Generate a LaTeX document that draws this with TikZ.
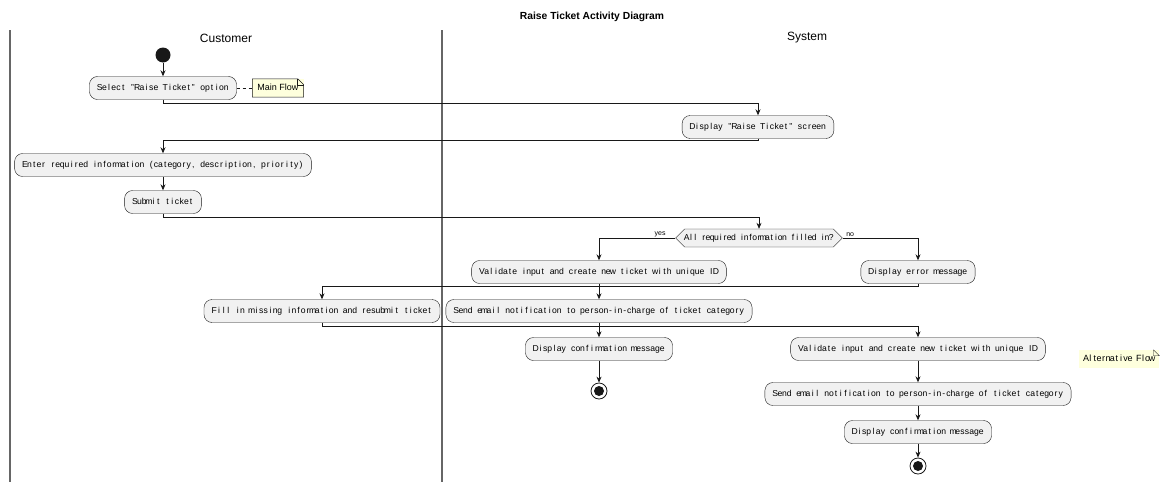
\documentclass[tikz,border=0pt]{standalone}
\usepackage{fontspec}
\setmainfont{Liberation Sans}
\usetikzlibrary{shapes.symbols,arrows.meta}
\definecolor{actfill}{HTML}{F1F1F1}
\definecolor{actline}{HTML}{181818}
\definecolor{notefill}{HTML}{FEFFDD}
\ExplSyntaxOn
\NewDocumentCommand\mtext{O{4.68pt}m}{\str_map_inline:nn{#2}{\makebox[#1]{##1}}}
\ExplSyntaxOff
\begin{document}
\begin{tikzpicture}[x=1pt, y=-1pt,
  act/.style={draw=actline, fill=actfill, rounded corners=8pt, inner xsep=8pt, text height=7pt, text depth=2pt,
    minimum height=23pt, font=\fontsize{8.6}{10}\selectfont},
  cond/.style={act, rounded corners=0pt, signal, signal to=east and west, minimum height=18pt, inner xsep=0pt, inner ysep=1pt},
  flow/.style={draw=actline, line width=0.7pt, -{Stealth[length=6pt,width=5pt]}},
  lane/.style={draw=black!60, line width=1.3pt},
  startnode/.style={circle, fill=actline, minimum size=15pt, inner sep=0pt},
  stopnode/.style={circle, draw=actline, fill=white, line width=0.8pt, minimum size=16pt, inner sep=0pt,
    path picture={\fill[actline] (path picture bounding box.center) circle (5pt);}},
  note/.style={fill=notefill, inner xsep=5pt, text height=7pt, text depth=2pt, minimum height=18pt,
    font=\fontsize{9}{10}\selectfont},
  lbl/.style={font=\fontsize{7}{8}\selectfont, inner sep=1pt}]
  \useasboundingbox (0,0) rectangle (1166,482);
  \node[font=\bfseries\fontsize{10.3}{12}\selectfont] (title) at (592,17) {Raise Ticket Activity Diagram};
  \draw[lane] (10,30) -- (10,482); \draw[lane] (442,30) -- (442,482);
  \node[font=\fontsize{12}{14}\selectfont] (customer) at (226,38) {Customer};
  \node[font=\fontsize{12}{14}\selectfont] (system) at (807,38) {System};

  \node[startnode] (start) at (163,55) {};
  \node[act] (select) at (163,88) {\mtext{Select "Raise Ticket" option}};
  \node[note] (mainnote) at (278,88) {Main Flow};
  \draw[actline, line width=0.5pt] (mainnote.south west) -- (mainnote.south east) -- ([yshift=-6pt]mainnote.north east)
    -- ([xshift=-6pt]mainnote.north east) -- (mainnote.north west) -- cycle;
  \draw[actline, line width=0.5pt] ([xshift=-6pt]mainnote.north east) -- ([xshift=-6pt,yshift=-6pt]mainnote.north east)
    -- ([yshift=-6pt]mainnote.north east);
  \draw[actline, dashed, line width=0.5pt] (select.east) -- (mainnote.west);
  \node[act] (display) at (758,127) {\mtext{Display "Raise Ticket" screen}};
  \node[act] (enter) at (163,165) {\mtext{Enter required information (category, description, priority)}};
  \node[act] (submit) at (163,202) {\mtext{Submit ticket}};
  \node[cond] (check) at (759,238) {\mtext[4.25pt]{All required information filled in?}};
  \node[act] (validate) at (599,272) {\mtext{Validate input and create new ticket with unique ID}};
  \node[act] (error) at (918,272) {\mtext{Display error message}};
  \node[act] (fill) at (322,311) {\mtext{Fill in missing information and resubmit ticket}};
  \node[act] (email) at (599,311) {\mtext{Send email notification to person-in-charge of ticket category}};
  \node[act] (confirm) at (599,349) {\mtext{Display confirmation message}};
  \node[stopnode] (stop) at (599,391) {};
  \node[act] (revalidate) at (918,349) {\mtext{Validate input and create new ticket with unique ID}};
  \node[act] (reemail) at (918,394) {\mtext{Send email notification to person-in-charge of ticket category}};
  \node[act] (reconfirm) at (918,432) {\mtext{Display confirmation message}};
  \node[stopnode] (restop) at (918,466) {};
  \node[note] (altnote) at (1119,359) {\mtext[4.4pt]{Alternative Flow}};
  \draw[actline, line width=0.3pt] ([xshift=-6pt]altnote.north east) -- ([xshift=-6pt,yshift=-6pt]altnote.north east)
    -- ([yshift=-6pt]altnote.north east) -- ([xshift=-6pt]altnote.north east);

  \draw[flow] (start) -- (select);
  \draw[flow] (select.south) -- ++(0,4) -| (display.north);
  \draw[flow] (display.south) -- ++(0,2) -| (enter.north);
  \draw[flow] (enter) -- (submit);
  \draw[flow] (submit.south) -- ++(0,4) -| (check.north);
  \draw[flow] (check.west) -| (validate.north) node[lbl, pos=0.1, above] {yes};
  \draw[flow] (check.east) -| (error.north) node[lbl, pos=0.05, above] {no};
  \draw[flow] (validate) -- (email);
  \draw[flow] (error.south) -- ++(0,3) -| (fill.north);
  \draw[flow] (fill.south) -- ++(0,4) -| (revalidate.north);
  \draw[flow] (email) -- (confirm);
  \draw[flow] (confirm) -- (stop);
  \draw[flow] (revalidate) -- (reemail);
  \draw[flow] (reemail) -- (reconfirm);
  \draw[flow] (reconfirm) -- (restop);
\end{tikzpicture}
\end{document}
